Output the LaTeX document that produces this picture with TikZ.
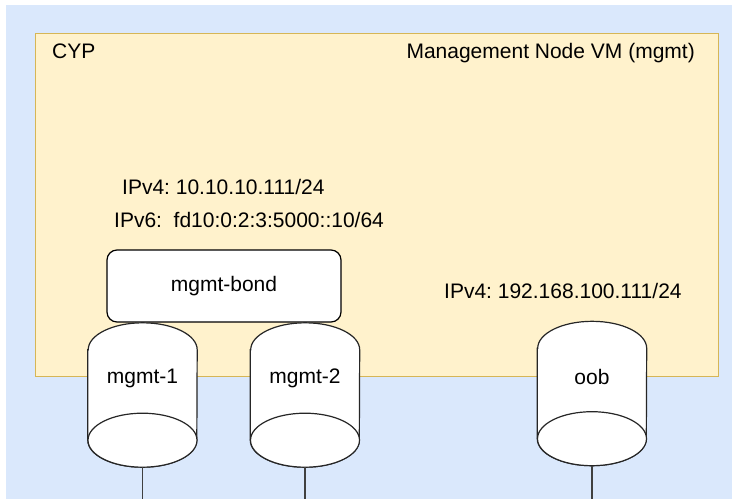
\documentclass[tikz,border=0pt]{standalone}
\usepackage{fontspec}
\setmainfont{Liberation Sans}
\frenchspacing

\definecolor{fondoAzul}{HTML}{DAE8FC}
\definecolor{fondoAmarillo}{HTML}{FFF2CC}
\definecolor{bordeAmarillo}{HTML}{D6B656}

\begin{document}
\begin{tikzpicture}[x=1pt,y=-1pt]

    \tikzset{texto/.style = {inner sep=0pt,font=\fontsize{21}{25}\selectfont}}
    \tikzset{myBond/.style = {shape=rectangle,draw,fill=white,rounded corners=10pt,line width=1.2pt,minimum width=234pt,minimum height=72pt,font=\fontsize{21}{25}\selectfont}}
    \tikzset{myDisk/.style = {shape=rectangle,inner sep=0pt,minimum width=109pt,minimum height=144pt}}
    \tikzset{diskLine/.style = {line width=1.2pt,draw=black!85,fill=white}}
    \tikzset{cable/.style = {line width=1.2pt,draw=black!75}}

    \useasboundingbox (0,0) rectangle (732,499);
    \fill [fondoAzul] (6,5) rectangle (732,499);

    %VM
    \draw [fill=fondoAmarillo,draw=bordeAmarillo,line width=1pt] (35,33) rectangle (718,376);
    \node [texto,anchor=base west] (cyp) at (52,58) {CYP};
    \node [texto,anchor=base east] (vmName) at (695,58) {Management Node VM (mgmt)};

    %bond
    \node [texto,anchor=base west] (bondIPv4) at (122,194) {IPv4: 10.10.10.111/24};
    \node [texto,anchor=base west] (bondIPv6) at (114,227) {IPv6:\ \ fd10:0:2:3:5000::10/64};
    \node [myBond] (bond) at (224,286) {mgmt-bond};

    %oob
    \node [texto,anchor=base west] (oobIPv4) at (444,298) {IPv4: 192.168.100.111/24};

    %interfaces
    \node [myDisk] (mgmt1) at (142.5,395) {};
    \node [myDisk] (mgmt2) at (305,395) {};
    \node [myDisk] (oob) at (592,393.5) {};

    \foreach \disco in {mgmt1,mgmt2,oob} {
        \draw [diskLine] ([yshift=-27pt]\disco.north west)
            -- ([yshift=27pt]\disco.south west)
            arc [start angle=180,end angle=360,x radius=54.5pt,y radius=27pt]
            -- ([yshift=-27pt]\disco.north east)
            arc [start angle=0,end angle=180,x radius=54.5pt,y radius=27pt]
            -- cycle;
        \draw [diskLine] ([yshift=27pt]\disco.south)
            ellipse [x radius=54.5pt,y radius=27pt];
    }
    \node [texto] at ([yshift=17pt]mgmt1.center) {mgmt-1};
    \node [texto] at ([yshift=17pt]mgmt2.center) {mgmt-2};
    \node [texto] at ([yshift=17pt]oob.center) {oob};

    \coordinate (mgmt1Fin) at (142.5,499);
    \coordinate (mgmt2Fin) at (305,499);
    \coordinate (oobFin) at (592,499);
    \draw [cable] (mgmt1.south) -- (mgmt1Fin);
    \draw [cable] (mgmt2.south) -- (mgmt2Fin);
    \draw [cable] (oob.south) -- (oobFin);

\end{tikzpicture}
\end{document}
